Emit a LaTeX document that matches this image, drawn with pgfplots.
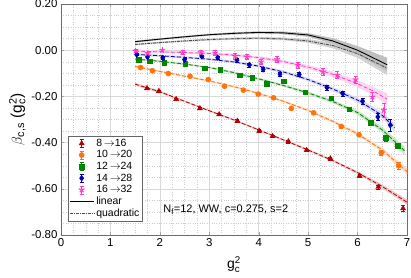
\documentclass[border=0pt]{standalone}
\usepackage{amsmath}
\usepackage{fontspec}
\setmainfont{Liberation Sans}
\usepackage{pgfplots}
\usepackage{pgfplotstable}
\pgfplotsset{compat=1.18}
\usepgfplotslibrary{fillbetween}

\definecolor{cred}{RGB}{180,0,0}
\definecolor{corange}{RGB}{255,115,10}
\definecolor{cgreen}{RGB}{0,135,0}
\definecolor{cblue}{RGB}{0,0,175}
\definecolor{cpink}{RGB}{255,60,200}

\newcommand{\gcsq}{g\ensuremath{_{\text{c}}^{\text{2}}}}

% data points: x y err
\pgfplotstableread{
x y e
1.74 -0.165 0.005
1.98 -0.177 0.005
2.33 -0.212 0.005
2.81 -0.252 0.005
3.20 -0.278 0.005
3.57 -0.306 0.005
4.01 -0.349 0.006
4.28 -0.372 0.006
4.60 -0.395 0.006
4.97 -0.433 0.006
5.45 -0.469 0.007
6.04 -0.544 0.008
6.42 -0.592 0.008
6.92 -0.685 0.012
}\dred
\pgfplotstableread{
x y e
1.61 -0.075 0.004
1.85 -0.089 0.004
2.17 -0.101 0.004
2.61 -0.113 0.004
2.98 -0.127 0.004
3.31 -0.156 0.004
3.69 -0.173 0.004
3.99 -0.190 0.005
4.30 -0.206 0.005
4.66 -0.252 0.005
5.11 -0.271 0.006
5.67 -0.330 0.007
6.03 -0.366 0.007
6.48 -0.445 0.010
6.83 -0.500 0.015
}\dorange
\pgfplotstableread{
x y e
1.57 -0.040 0.004
1.79 -0.048 0.004
2.09 -0.053 0.004
2.51 -0.058 0.004
2.91 -0.077 0.004
3.22 -0.084 0.004
3.61 -0.108 0.005
3.87 -0.120 0.005
4.16 -0.144 0.005
4.50 -0.134 0.005
4.94 -0.182 0.006
5.47 -0.207 0.007
5.83 -0.255 0.008
6.26 -0.314 0.009
6.57 -0.380 0.012
6.81 -0.413 0.012
}\dgreen
\pgfplotstableread{
x y e
1.53 -0.019 0.005
1.75 -0.029 0.005
2.06 -0.033 0.006
2.50 -0.041 0.006
2.85 -0.026 0.006
3.17 -0.032 0.007
3.56 -0.043 0.007
3.81 -0.064 0.008
4.09 -0.083 0.010
4.43 -0.104 0.010
4.82 -0.105 0.008
5.38 -0.162 0.012
5.70 -0.188 0.010
6.10 -0.221 0.012
6.41 -0.289 0.015
6.66 -0.324 0.025
}\dblue
\pgfplotstableread{
x y e
1.51 -0.003 0.005
1.75 -0.014 0.005
2.05 0.000 0.006
2.46 -0.010 0.008
2.83 -0.010 0.010
3.12 -0.011 0.012
3.52 -0.026 0.012
3.76 -0.029 0.012
4.05 -0.050 0.010
4.37 -0.040 0.012
4.79 -0.065 0.012
5.30 -0.094 0.015
5.59 -0.108 0.015
5.96 -0.127 0.015
6.30 -0.202 0.020
6.53 -0.260 0.030
}\dpink

% fit curves: x y band
\pgfplotstableread{
x y e
1.5 -0.147 0.006
2 -0.180 0.005
2.5 -0.221 0.004
3 -0.262 0.004
3.5 -0.302 0.004
4 -0.345 0.004
4.5 -0.388 0.004
5 -0.432 0.005
5.5 -0.478 0.005
6 -0.530 0.006
6.5 -0.590 0.008
7 -0.658 0.012
}\fred
\pgfplotstableread{
x y e
1.5 -0.070 0.005
2 -0.092 0.004
2.5 -0.112 0.004
3 -0.133 0.004
3.5 -0.158 0.004
4 -0.187 0.004
4.5 -0.221 0.005
5 -0.261 0.005
5.5 -0.308 0.006
6 -0.362 0.007
6.5 -0.432 0.009
7 -0.525 0.014
}\forange
\pgfplotstableread{
x y e
1.5 -0.038 0.005
2 -0.048 0.004
2.5 -0.060 0.004
3 -0.075 0.004
3.5 -0.097 0.005
4 -0.124 0.005
4.5 -0.153 0.005
5 -0.185 0.006
5.5 -0.222 0.007
6 -0.270 0.009
6.5 -0.345 0.012
6.95 -0.435 0.018
}\fgreen
\pgfplotstableread{
x y e
1.5 -0.018 0.006
2 -0.024 0.005
2.5 -0.031 0.005
3 -0.039 0.005
3.5 -0.051 0.005
4 -0.069 0.006
4.5 -0.094 0.006
5 -0.127 0.007
5.5 -0.168 0.008
6 -0.216 0.010
6.5 -0.282 0.013
6.75 -0.335 0.016
}\fblue
\pgfplotstableread{
x y e
1.5 -0.004 0.006
2 -0.007 0.005
2.5 -0.010 0.005
3 -0.014 0.005
3.5 -0.021 0.006
4 -0.032 0.006
4.5 -0.049 0.007
5 -0.073 0.009
5.5 -0.104 0.011
6 -0.145 0.015
6.3 -0.175 0.018
6.6 -0.212 0.024
}\fpink
\pgfplotstableread{
x y e
1.5 0.037 0.004
2 0.048 0.004
2.5 0.058 0.004
3 0.067 0.004
3.5 0.073 0.005
4 0.077 0.005
4.5 0.075 0.006
5 0.066 0.008
5.5 0.040 0.012
6 0.000 0.018
6.6 -0.063 0.030
}\flin
\pgfplotstableread{
x y e
1.5 0.025 0.004
2 0.033 0.004
2.5 0.040 0.004
3 0.046 0.004
3.5 0.050 0.005
4 0.052 0.005
4.5 0.049 0.006
5 0.040 0.008
5.5 0.020 0.012
6 -0.015 0.018
6.6 -0.078 0.030
}\fquad

\newcommand{\band}[3]{%
  \addplot[draw=none, forget plot, name path=#1u] table[x=x, y expr=\thisrow{y}+\thisrow{e}] {#2};
  \addplot[draw=none, forget plot, name path=#1l] table[x=x, y expr=\thisrow{y}-\thisrow{e}] {#2};
  \addplot[fill=#3, draw=none, forget plot] fill between[of=#1u and #1l];
}

\pgfplotsset{
  errleg/.style={legend image code/.code={
    \draw[##1, solid, line width=0.5pt] (0.42cm,-0.14cm) -- (0.42cm,0.14cm)
      (0.35cm,-0.14cm) -- (0.49cm,-0.14cm) (0.35cm,0.14cm) -- (0.49cm,0.14cm);
    \draw[##1] plot coordinates {(0.42cm,0cm)};
  }},
  lineleg/.style={legend image code/.code={
    \draw[##1] (0cm,0cm) -- (0.85cm,0cm);
  }},
}

\begin{document}
\begin{tikzpicture}
\begin{axis}[
  name=ax,
  scale only axis,
  width=346bp, height=231bp,
  xmin=0, xmax=7, ymin=-0.8, ymax=0.2,
  xtick={0,1,2,3,4,5,6,7},
  ytick={-0.8,-0.6,-0.4,-0.2,0,0.2},
  minor tick num=3,
  grid=both,
  major grid style={draw=gray!30, line width=0.5pt},
  minor grid style={draw=gray!40, dotted, line width=0.4pt},
  axis line style={draw=gray!85!black},
  tick style={draw=gray!70, line width=0.4pt},
  major tick length=3pt, minor tick length=0pt,
  /pgf/number format/assume math mode=true,
  yticklabel style={/pgf/number format/.cd, fixed, fixed zerofill, precision=2},
  ticklabel style={font=\fontsize{11.5}{13}\selectfont},
  xlabel={\gcsq},
  ylabel={$\beta$\textsubscript{c,s}\;(\gcsq)},
  xlabel style={font=\fontsize{14}{16}\selectfont, yshift=-3pt},
  ylabel style={font=\fontsize{15.5}{17}\selectfont, yshift=-1pt},
  legend style={at={(0.02,0.43)}, anchor=north west, draw=gray!80!black, fill=white,
    font=\fontsize{10.5}{12}\selectfont, inner sep=1.2pt, row sep=-1.2pt},
  legend cell align=left,
  error bars/error bar style={line width=0.5pt},
  error bars/error mark options={rotate=90, mark size=2pt, line width=0.5pt},
]
% bands
\band{br}{\fred}{cred!22}
\band{bo}{\forange}{corange!25}
\band{bg}{\fgreen}{cgreen!22}
\band{bb}{\fblue}{cblue!15}
\band{bp}{\fpink}{cpink!22}
\band{bq}{\fquad}{gray!35}
\band{bl}{\flin}{gray!50}
% fit lines
\addplot[cred, dashed, line width=0.8pt, dash pattern=on 4pt off 2pt, forget plot] table[x=x,y=y] {\fred};
\addplot[corange, dashed, line width=0.8pt, dash pattern=on 4pt off 2pt, forget plot] table[x=x,y=y] {\forange};
\addplot[cgreen, dashed, line width=0.8pt, dash pattern=on 4pt off 2pt, forget plot] table[x=x,y=y] {\fgreen};
\addplot[cblue, dashed, line width=0.8pt, dash pattern=on 4pt off 2pt, forget plot] table[x=x,y=y] {\fblue};
\addplot[cpink, dashed, line width=0.8pt, dash pattern=on 4pt off 2pt, forget plot] table[x=x,y=y] {\fpink};
% data
\addplot[cred, only marks, mark=triangle*, mark size=3pt, errleg,
  error bars/.cd, y dir=both, y explicit] table[x=x, y=y, y error=e] {\dred};
\addlegendentry{8$\,\rightarrow$16}
\addplot[corange, only marks, mark=*, mark size=2.6pt, errleg,
  error bars/.cd, y dir=both, y explicit] table[x=x, y=y, y error=e] {\dorange};
\addlegendentry{10$\,\rightarrow$20}
\addplot[cgreen, only marks, mark=square*, mark size=2.3pt, errleg,
  error bars/.cd, y dir=both, y explicit] table[x=x, y=y, y error=e] {\dgreen};
\addlegendentry{12$\,\rightarrow$24}
\addplot[cblue, only marks, mark=diamond*, mark size=2.9pt, errleg,
  error bars/.cd, y dir=both, y explicit] table[x=x, y=y, y error=e] {\dblue};
\addlegendentry{14$\,\rightarrow$28}
\addplot[cpink, only marks, mark=star, mark size=3pt, mark options={line width=1.1pt}, errleg,
  error bars/.cd, y dir=both, y explicit] table[x=x, y=y, y error=e] {\dpink};
\addlegendentry{16$\,\rightarrow$32}
% linear / quadratic
\addplot[black, line width=0.9pt, lineleg] table[x=x,y=y] {\flin};
\addlegendentry{linear}
\addplot[gray!60!black, line width=0.9pt, dash pattern=on 3pt off 1pt on 1pt off 1pt, lineleg] table[x=x,y=y] {\fquad};
\addlegendentry{quadratic}
\node[anchor=west, font=\fontsize{11}{13}\selectfont] at (axis cs:2.0,-0.69) {N\textsubscript{f}=12, WW, c=0.275, s=2};
\end{axis}
\pgfresetboundingbox
\path[use as bounding box] ([xshift=-61bp,yshift=-42bp]ax.south west) rectangle ([xshift=4bp,yshift=4bp]ax.north east);
\end{tikzpicture}
\end{document}
